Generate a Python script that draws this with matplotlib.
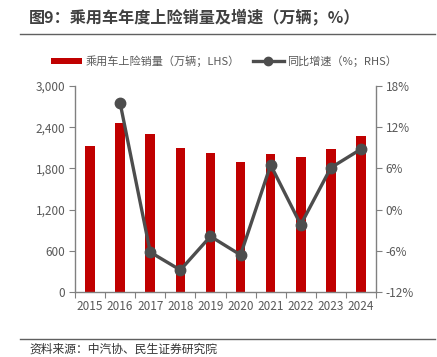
import matplotlib
matplotlib.use("Agg")
import matplotlib.pyplot as plt
from matplotlib.lines import Line2D
from matplotlib.patches import Patch
import numpy as np

plt.rcParams['font.family'] = ['Noto Sans CJK SC', 'DejaVu Sans']

years = ['2015', '2016', '2017', '2018', '2019', '2020', '2021', '2022', '2023', '2024']
sales = [2120, 2456, 2305, 2101, 2023, 1888, 2009, 1965, 2086, 2266]
growth = [None, 15.5, -6.2, -8.8, -3.9, -6.6, 6.5, -2.2, 6.1, 8.8]

title = '图9：乘用车年度上险销量及增速（万辆；%）'
bar_label = '乘用车上险销量（万辆；LHS）'
line_label = '同比增速（%；RHS）'
source = '资料来源：中汽协、民生证券研究院'

W, H = 437, 357
fig = plt.figure(figsize=(W / 100, H / 100), dpi=100)

def fx(px):
    return px / W

def fy(py):
    return 1 - py / H

red = '#C00000'
gray_line = '#4D4D4D'
tick_col = '#595959'
spine_col = '#808080'

ax = fig.add_axes([fx(75), fy(292), fx(376) - fx(75), fy(86) - fy(292)])
x = np.arange(len(years))
ax.bar(x, sales, width=0.32, color=red, zorder=2)
ax.set_xlim(-0.5, len(years) - 0.5)
ax.set_ylim(0, 3000)
ax.set_yticks([0, 600, 1200, 1800, 2400, 3000])
ax.set_yticklabels(['0', '600', '1,200', '1,800', '2,400', '3,000'])
ax.set_xticks(np.arange(-0.5, len(years), 1.0))
ax.set_xticklabels([])
ax.set_xticks(x, minor=True)
ax.set_xticklabels(years, minor=True)
ax.tick_params(axis='x', which='minor', length=0, pad=6, labelsize=8.5, labelcolor=tick_col)
ax.tick_params(axis='x', which='major', length=4, color=spine_col, direction='out')
ax.tick_params(axis='y', length=4, color=spine_col, labelsize=8.5, labelcolor=tick_col, pad=3)
for s in ['top', 'right']:
    ax.spines[s].set_visible(False)
for s in ['left', 'bottom']:
    ax.spines[s].set_color(spine_col)
    ax.spines[s].set_linewidth(1.0)

ax2 = ax.twinx()
gx = [i for i, g in enumerate(growth) if g is not None]
gy = [g for g in growth if g is not None]
ax2.plot(gx, gy, color=gray_line, lw=2.4, marker='o', markersize=7.5, zorder=3)
ax2.set_ylim(-12, 18)
ax2.set_yticks([-12, -6, 0, 6, 12, 18])
ax2.set_yticklabels(['-12%', '-6%', '0%', '6%', '12%', '18%'])
ax2.tick_params(axis='y', length=4, color=spine_col, labelsize=8.5, labelcolor=tick_col, pad=3)
for s in ['top', 'left', 'bottom']:
    ax2.spines[s].set_visible(False)
ax2.spines['right'].set_color(spine_col)
ax2.spines['right'].set_linewidth(1.0)

# title and rules
fig.text(fx(29), fy(17), title, fontsize=11.6, fontweight='bold', color='#404040',
         va='center', ha='left')
fig.add_artist(Line2D([fx(20), fx(435)], [fy(34), fy(34)], color='#606060', lw=1.0))
fig.add_artist(Line2D([fx(20), fx(435)], [fy(339), fy(339)], color='#606060', lw=1.0))
fig.text(fx(29), fy(349), source, fontsize=8.5, color='#333333', va='center', ha='left')

handles = [Patch(facecolor=red, edgecolor='none'),
           Line2D([0], [0], color=gray_line, lw=2.4, marker='o', markersize=6)]
fig.legend(handles, [bar_label, line_label], loc='center', bbox_to_anchor=(fx(224), fy(61)),
           ncol=2, frameon=False, fontsize=8, labelcolor='#595959',
           handlelength=2.8, handleheight=0.5, columnspacing=1.2, handletextpad=0.3)

fig.savefig('out.png', dpi=100)
